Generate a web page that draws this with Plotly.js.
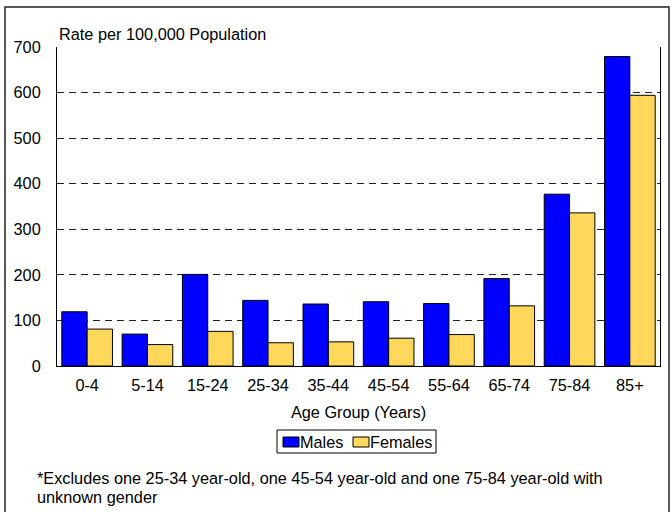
<!DOCTYPE html>
<html>
<head>
<meta charset="utf-8">
<script src="https://cdn.plot.ly/plotly-3.0.1.min.js"></script>
<style>html,body{margin:0;padding:0;background:#fff;}#chart{width:672px;height:512px;}</style>
</head>
<body>
<div id="chart"></div>
<script>
const categories = ["0-4","5-14","15-24","25-34","35-44","45-54","55-64","65-74","75-84","85+"];
const males = [119, 70, 201, 144, 136, 141, 137, 192, 377, 679];
const females = [81, 47, 76, 51, 53, 61, 69, 132, 336, 594];
const seriesNames = ["Males", "Females"];
const seriesColors = ["#0000FF", "#FFD75A"];
const yTicks = [0, 100, 200, 300, 400, 500, 600, 700];

const font = {family: "Liberation Sans, Arial, sans-serif", size: 16.3, color: "#000"};
const W = 672, H = 512, L = 57, R = 12, T = 47, B = 146;
const pw = W - L - R, ph = H - T - B;
const px = x => (x - L) / pw;
const py = y => (H - B - y) / ph;

const data = seriesNames.map((name, i) => ({
  type: "bar", name: name, x: categories, y: i === 0 ? males : females,
  marker: {color: seriesColors[i], line: {color: "#000", width: 1}}
}));

const annotations = [
  {text: "Rate per 100,000 Population", xref: "paper", yref: "paper",
   x: px(57), y: py(34), xanchor: "left", yanchor: "middle", showarrow: false, font: font},
  {text: "*Excludes one 25-34 year-old, one 45-54 year-old and one 75-84 year-old with",
   xref: "paper", yref: "paper", x: px(35), y: py(478), xanchor: "left", yanchor: "middle",
   showarrow: false, font: font},
  {text: "unknown gender",
   xref: "paper", yref: "paper", x: px(35), y: py(497), xanchor: "left", yanchor: "middle",
   showarrow: false, font: font}
];

const shapes = [
  {type: "rect", xref: "paper", yref: "paper", x0: px(5), x1: px(669), y0: py(520), y1: py(7),
   line: {color: "#222", width: 1.5}, fillcolor: "rgba(0,0,0,0)", layer: "above"},
  {type: "rect", xref: "paper", yref: "paper", x0: px(277), x1: px(436), y0: py(453), y1: py(430),
   line: {color: "#000", width: 1}, fillcolor: "#fff", layer: "above"}
];

// custom legend entries
const legendItems = [{sx: 283, tx: 299}, {sx: 353, tx: 369}];
seriesNames.forEach((name, i) => {
  const it = legendItems[i];
  shapes.push({type: "rect", xref: "paper", yref: "paper",
    x0: px(it.sx), x1: px(it.sx + 16), y0: py(447), y1: py(437),
    line: {color: "#000", width: 1}, fillcolor: seriesColors[i], layer: "above"});
  annotations.push({text: name, xref: "paper", yref: "paper", x: px(it.tx), y: py(441.5),
    xanchor: "left", yanchor: "middle", showarrow: false, font: font, borderpad: 0});
});

const layout = {
  width: W, height: H,
  margin: {l: L, r: R, t: T, b: B, pad: 0},
  paper_bgcolor: "#fff", plot_bgcolor: "#fff",
  font: font,
  barmode: "group", bargap: 0.16, bargroupgap: 0,
  showlegend: false,
  xaxis: {type: "category", tickvals: categories, ticktext: categories,
          showline: true, linecolor: "#000", linewidth: 1, mirror: false,
          ticks: "outside", ticklen: 4, tickcolor: "rgba(0,0,0,0)",
          showgrid: false, tickfont: font, fixedrange: true,
          title: {text: "Age Group (Years)", font: font, standoff: 14}},
  yaxis: {range: [0, 700], tickvals: yTicks, ticktext: yTicks.map(String),
          showline: true, linecolor: "#000", linewidth: 1, mirror: true,
          showgrid: true, gridcolor: "#222", gridwidth: 1, griddash: "7px,5px",
          zeroline: false, ticks: "outside", ticklen: 12, tickcolor: "rgba(0,0,0,0)",
          tickfont: font, fixedrange: true},
  annotations: annotations,
  shapes: shapes
};

Plotly.newPlot("chart", data, layout, {displayModeBar: false, staticPlot: true});
</script>
</body>
</html>
